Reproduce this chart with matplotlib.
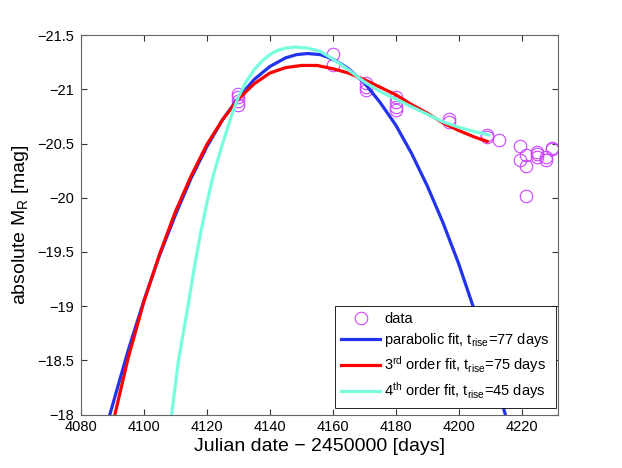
import matplotlib
matplotlib.use('Agg')
import matplotlib.pyplot as plt

plt.rcParams['font.family'] = ['Liberation Sans', 'DejaVu Sans']
plt.rcParams['mathtext.default'] = 'regular'

# photometry points (Julian date - 2450000, absolute R mag)
data_x = [4130, 4130, 4130, 4130, 4160, 4160, 4170.7, 4170.7, 4170.7,
          4180, 4180, 4180, 4180, 4197, 4197, 4209, 4209, 4212.7,
          4219.6, 4219.6, 4221.4, 4221.4, 4221.4, 4224.7, 4224.7, 4224.7,
          4227.8, 4227.8, 4229.6, 4229.6]
data_y = [-20.96, -20.93, -20.89, -20.855, -21.33, -21.22, -21.06, -21.02, -20.99,
          -20.93, -20.885, -20.84, -20.81, -20.73, -20.70, -20.58, -20.56, -20.53,
          -20.48, -20.35, -20.39, -20.29, -20.02, -20.42, -20.40, -20.38,
          -20.38, -20.35, -20.46, -20.45]

# parabolic fit curve
para_x = [4089.2, 4095, 4100, 4105, 4110, 4115, 4120, 4125, 4130, 4135, 4140,
          4145, 4148.5, 4152, 4156, 4160, 4165, 4170, 4175, 4180, 4185, 4190,
          4195, 4200, 4205, 4210, 4215]
para_y = [-18.0, -18.59, -19.05, -19.47, -19.84, -20.18, -20.47, -20.72, -20.92,
          -21.09, -21.21, -21.29, -21.32, -21.33, -21.32, -21.28, -21.19, -21.06,
          -20.88, -20.67, -20.41, -20.11, -19.77, -19.39, -18.96, -18.49, -17.98]

# 3rd order fit
cub_x = [4090.8, 4095, 4100, 4105, 4110, 4115, 4120, 4125, 4130, 4135, 4140,
         4145, 4150, 4155, 4160, 4165, 4170, 4175, 4180, 4185, 4190, 4195,
         4200, 4205, 4209]
cub_y = [-18.0, -18.52, -19.04, -19.48, -19.87, -20.20, -20.49, -20.72, -20.91,
         -21.05, -21.15, -21.20, -21.22, -21.22, -21.19, -21.15, -21.09, -21.02,
         -20.95, -20.86, -20.78, -20.69, -20.62, -20.56, -20.52]

# 4th order fit
quar_x = [4108.8, 4111, 4113.6, 4116, 4118, 4120, 4122, 4125, 4128, 4130, 4132.5,
          4135, 4137.5, 4140, 4142.5, 4145, 4148, 4152, 4156, 4160, 4165, 4170,
          4175, 4180, 4185, 4190, 4195, 4200, 4205, 4209.5]
quar_y = [-18.0, -18.5, -18.93, -19.35, -19.67, -19.95, -20.2, -20.5, -20.77,
          -20.93, -21.07, -21.18, -21.26, -21.32, -21.36, -21.38, -21.39, -21.38,
          -21.35, -21.28, -21.18, -21.07, -20.98, -20.91, -20.84, -20.77, -20.70,
          -20.65, -20.61, -20.58]

xticks = [4080, 4100, 4120, 4140, 4160, 4180, 4200, 4220]
yticks = [-21.5, -21, -20.5, -20, -19.5, -19, -18.5, -18]
ylabels = ['\u221221.5', '\u221221', '\u221220.5', '\u221220', '\u221219.5',
           '\u221219', '\u221218.5', '\u221218']

fig = plt.figure(figsize=(6.22, 4.68), dpi=100)
ax = fig.add_axes([0.13, 0.114, 0.767, 0.811])

ax.plot(data_x, data_y, 'o', mfc='none', mec='#cc44ff', ms=9, mew=0.8, label='data')
ax.plot(para_x, para_y, color='#2233ee', lw=2.3, label='parabolic fit, t$_{rise}$=77 days')
ax.plot(cub_x, cub_y, color='#ff0000', lw=2.3,
        label='3$^{rd}$ order fit, t$_{rise}$=75 days')
ax.plot(quar_x, quar_y, color='#77ffdd', lw=2.3,
        label='4$^{th}$ order fit, t$_{rise}$=45 days')

ax.set_xlim(4080, 4231.5)
ax.set_ylim(-18, -21.5)
ax.set_xticks(xticks)
ax.set_yticks(yticks)
ax.set_yticklabels(ylabels)
ax.tick_params(direction='in', top=True, right=True, length=4, width=0.8,
               labelsize=10.5, colors='#333333', labelcolor='black')
ax.tick_params(axis='x', pad=4)
ax.tick_params(axis='y', pad=5)
for s in ax.spines.values():
    s.set_color('#666666')
    s.set_linewidth(0.8)

ax.set_xlabel('Julian date \u2212 2450000 [days]', fontsize=14, labelpad=3)
ax.set_ylabel('absolute M$_R$ [mag]', fontsize=14, labelpad=4)

leg = ax.legend(loc='lower right', bbox_to_anchor=(0.996, 0.018), borderaxespad=0,
                fontsize=10.5, handlelength=2.7, labelspacing=0.35,
                fancybox=False, framealpha=1, edgecolor='black', borderpad=0.45,
                handletextpad=0.25)
leg.get_frame().set_linewidth(0.6)

fig.savefig('out.png', dpi=100)
